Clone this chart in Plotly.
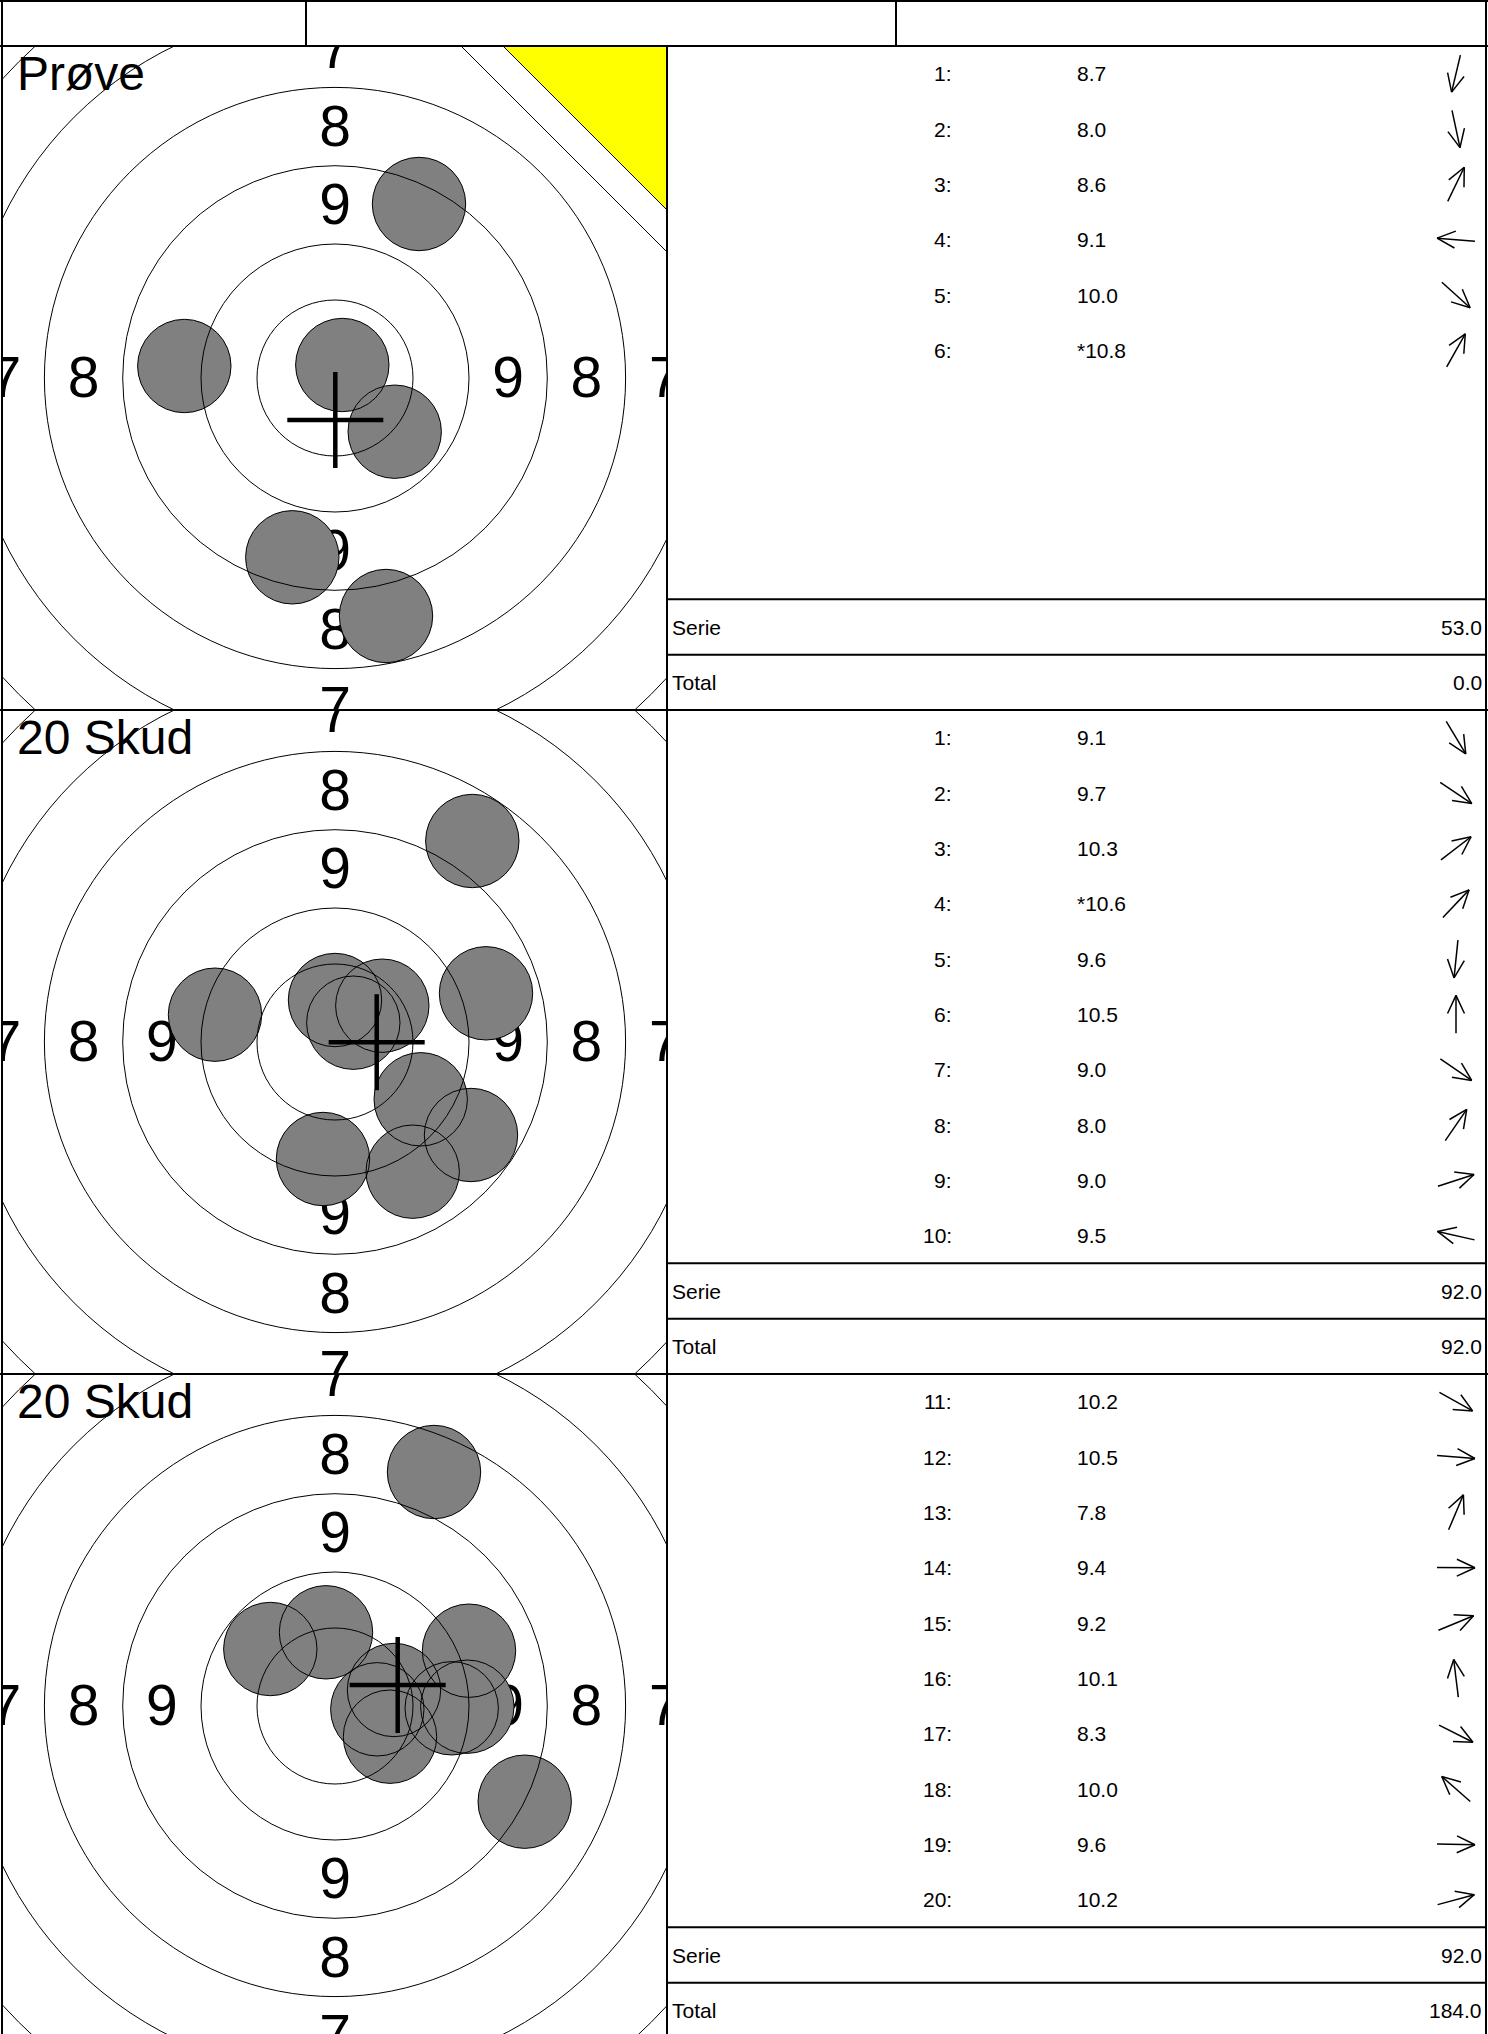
import math
import plotly.graph_objects as go

W, H = 1488, 2034
HEADER_H = 46
PANEL_H = 664
N_ROWS = 12
ROW_H = PANEL_H / N_ROWS
TARGET_LEFT, TARGET_RIGHT = 3, 667
TABLE_RIGHT = 1486
HEADER_DIVIDERS = [306, 896]
FONT = "Liberation Sans, Arial, sans-serif"
LABEL_SHIFT = -5  # plotly puts mid-centred text a little high

# target geometry (units = pixels of the sheet, origin at target centre, y up)
ring_radii = [78.0, 134.0, 212.3, 290.6, 368.9, 447.2]
ring_numbers = ["9", "8", "7"]
hole_radius = 46.7

titles = ["Prøve", "20 Skud", "20 Skud"]

# Prøve
shots_1 = [1, 2, 3, 4, 5, 6]
scores_1 = [8.7, 8.0, 8.6, 9.1, 10.0, 10.8]
inner_1 = [False, False, False, False, False, True]
hole_x_1 = [-42.7, 51.0, 84.0, -150.7, 59.7, 7.3]
hole_y_1 = [-179.3, -238.0, 174.0, 12.0, -53.7, 13.0]
mpi_1 = [0.3, -42.0]

# 20 skud, serie 1
shots_2 = [1, 2, 3, 4, 5, 6, 7, 8, 9, 10]
scores_2 = [9.1, 9.7, 10.3, 10.6, 9.6, 10.5, 9.0, 8.0, 9.0, 9.5]
inner_2 = [False, False, False, True, False, False, False, False, False, False]
hole_x_2 = [77.7, 85.7, 47.3, 18.3, -12.0, 0.0, 136.0, 137.3, 151.0, -120.0]
hole_y_2 = [-129.7, -57.3, 36.3, 19.3, -117.0, 42.0, -93.0, 201.0, 48.7, 27.3]
mpi_2 = [41.7, -0.2]

# 20 skud, serie 2
shots_3 = [11, 12, 13, 14, 15, 16, 17, 18, 19, 20]
scores_3 = [10.2, 10.5, 7.8, 9.4, 9.2, 10.1, 8.3, 10.0, 9.6, 10.2]
inner_3 = [False] * 10
hole_x_3 = [55.0, 42.3, 99.0, 132.3, 134.0, -9.0, 189.7, -64.7, 116.7, 59.0]
hole_y_3 = [-30.7, -3.3, 234.0, -0.7, 55.3, 73.7, -95.7, 57.0, -2.3, 16.0]
mpi_3 = [62.7, 21.0]

serie_values = [53.0, 92.0, 92.0]
total_values = [0.0, 92.0, 184.0]

panels = [
    (shots_1, scores_1, inner_1, hole_x_1, hole_y_1, mpi_1),
    (shots_2, scores_2, inner_2, hole_x_2, hole_y_2, mpi_2),
    (shots_3, scores_3, inner_3, hole_x_3, hole_y_3, mpi_3),
]

fig = go.Figure()
shapes = []
annotations = []
layout_axes = {}

label_radii = [(ring_radii[k + 1] + ring_radii[k + 2]) / 2 for k in range(3)]
half_w = (TARGET_RIGHT - TARGET_LEFT) / 2

for p, (shots, scores, inner, hx, hy, mpi) in enumerate(panels):
    suffix = "" if p == 0 else str(p + 1)
    xa, ya = "x" + suffix, "y" + suffix
    top = HEADER_H + p * PANEL_H
    bottom = top + PANEL_H
    cy = top + PANEL_H / 2
    vis_bottom = min(bottom, H)
    layout_axes["xaxis" + suffix] = dict(
        domain=[TARGET_LEFT / W, TARGET_RIGHT / W], range=[-half_w, half_w],
        visible=False, anchor=ya, fixedrange=True)
    layout_axes["yaxis" + suffix] = dict(
        domain=[max(0, 1 - bottom / H), 1 - top / H],
        range=[-(vis_bottom - cy), cy - top],
        visible=False, anchor=xa, fixedrange=True)

    # ring numbers (under the holes)
    lx, lyy, lt = [], [], []
    for r, t in zip(label_radii, ring_numbers):
        for dx, dy in [(0, 1), (0, -1), (1, 0), (-1, 0)]:
            lx.append(dx * r)
            lyy.append(dy * r + LABEL_SHIFT)
            lt.append(t)
    fig.add_trace(go.Scatter(
        x=lx, y=lyy, text=lt, mode="text", xaxis=xa, yaxis=ya,
        textposition="middle center", cliponaxis=True, hoverinfo="skip",
        textfont=dict(family=FONT, size=57, color="black"), showlegend=False))

    # hole fills
    for x, y in zip(hx, hy):
        shapes.append(dict(type="circle", xref=xa, yref=ya, layer="above",
                           x0=x - hole_radius, x1=x + hole_radius,
                           y0=y - hole_radius, y1=y + hole_radius,
                           fillcolor="#808080", line=dict(width=0)))
    # rings
    for r in ring_radii:
        shapes.append(dict(type="circle", xref=xa, yref=ya, layer="above",
                           x0=-r, x1=r, y0=-r, y1=r,
                           line=dict(color="black", width=1)))
    # hole outlines
    for x, y in zip(hx, hy):
        shapes.append(dict(type="circle", xref=xa, yref=ya, layer="above",
                           x0=x - hole_radius, x1=x + hole_radius,
                           y0=y - hole_radius, y1=y + hole_radius,
                           line=dict(color="black", width=1)))
    # sighter corner on the Prøve target
    if p == 0:
        c = half_w
        shapes.append(dict(type="path", xref=xa, yref=ya, layer="above",
                           path=f"M {c - 206},{c} L {c + 10},{c} L {c + 10},{c - 216} Z",
                           fillcolor="white", line=dict(color="black", width=1)))
        shapes.append(dict(type="path", xref=xa, yref=ya, layer="above",
                           path=f"M {c - 164},{c} L {c + 10},{c} L {c + 10},{c - 174} Z",
                           fillcolor="#ffff00", line=dict(color="black", width=1)))
    # mean point of impact
    mx, my = mpi
    shapes.append(dict(type="line", xref=xa, yref=ya, layer="above",
                       x0=mx - 48, x1=mx + 48, y0=my, y1=my,
                       line=dict(color="black", width=4.5)))
    shapes.append(dict(type="line", xref=xa, yref=ya, layer="above",
                       x0=mx, x1=mx, y0=my - 48, y1=my + 48,
                       line=dict(color="black", width=4.5)))

    annotations.append(dict(xref=xa, yref=ya, x=-half_w + 12, y=cy - top - 27.5,
                            text=titles[p], showarrow=False, xanchor="left",
                            yanchor="middle",
                            font=dict(family=FONT, size=48, color="black")))

    # table
    ax_x, ax_y = [], []
    for i, (n, s, inn, x, y) in enumerate(zip(shots, scores, inner, hx, hy)):
        ry = top + (i + 0.5) * ROW_H
        annotations.append(dict(xref="x4", yref="y4", x=954, y=ry, text=f"{n}:",
                                showarrow=False, xanchor="right", yanchor="middle",
                                font=dict(family=FONT, size=21, color="black")))
        annotations.append(dict(xref="x4", yref="y4", x=1075, y=ry,
                                text=("*" if inn else "") + f"{s:.1f}",
                                showarrow=False, xanchor="left", yanchor="middle",
                                font=dict(family=FONT, size=21, color="black")))
        ang = math.atan2(y, x)
        ux, uy = math.cos(ang), -math.sin(ang)
        cx0 = 1456
        tx, ty = cx0 - 19 * ux, ry - 19 * uy
        hx0, hy0 = cx0 + 19 * ux, ry + 19 * uy
        ax_x += [tx, hx0, None]
        ax_y += [ty, hy0, None]
        for sgn in (1, -1):
            a = math.radians(25) * sgn
            bx = ux * math.cos(a) - uy * math.sin(a)
            by = ux * math.sin(a) + uy * math.cos(a)
            ax_x += [hx0 - 20 * bx, hx0, None]
            ax_y += [hy0 - 20 * by, hy0, None]
    fig.add_trace(go.Scatter(x=ax_x, y=ax_y, mode="lines", xaxis="x4", yaxis="y4",
                             line=dict(color="black", width=1.5), hoverinfo="skip",
                             showlegend=False))

    serie_y = top + 10 * ROW_H
    total_y = top + 11 * ROW_H
    for label, val, yy in [("Serie", serie_values[p], serie_y), ("Total", total_values[p], total_y)]:
        annotations.append(dict(xref="x4", yref="y4", x=670, y=yy + ROW_H / 2, text=label,
                                showarrow=False, xanchor="left", yanchor="middle",
                                font=dict(family=FONT, size=21, color="black")))
        annotations.append(dict(xref="x4", yref="y4", x=1484, y=yy + ROW_H / 2,
                                text=f"{val:.1f}", showarrow=False, xanchor="right",
                                yanchor="middle",
                                font=dict(family=FONT, size=21, color="black")))
    for yy in (serie_y, total_y):
        shapes.append(dict(type="line", xref="x4", yref="y4", layer="above",
                           x0=TARGET_RIGHT, x1=TABLE_RIGHT, y0=yy, y1=yy,
                           line=dict(color="black", width=2)))
    shapes.append(dict(type="line", xref="x4", yref="y4", layer="above",
                       x0=0, x1=W, y0=top, y1=top, line=dict(color="black", width=2)))

# sheet frame
frame = [
    (0, 1, W, 1), (2, 0, 2, H), (TABLE_RIGHT, 0, TABLE_RIGHT, H),
    (TARGET_RIGHT, HEADER_H, TARGET_RIGHT, H),
]
for xd in HEADER_DIVIDERS:
    frame.append((xd, 0, xd, HEADER_H))
for x0, y0, x1, y1 in frame:
    shapes.append(dict(type="line", xref="x4", yref="y4", layer="above",
                       x0=x0, x1=x1, y0=y0, y1=y1, line=dict(color="black", width=2)))

layout_axes["xaxis4"] = dict(domain=[0, 1], range=[0, W], visible=False,
                             anchor="y4", fixedrange=True)
layout_axes["yaxis4"] = dict(domain=[0, 1], range=[H, 0], visible=False,
                             anchor="x4", fixedrange=True)

fig.update_layout(
    width=W, height=H, margin=dict(l=0, r=0, t=0, b=0),
    paper_bgcolor="white", plot_bgcolor="rgba(0,0,0,0)",
    showlegend=False, shapes=shapes, annotations=annotations,
    **layout_axes,
)
# the page's default body margin would push the sheet 8 px right and down
fig.write_html("out.html", config={"displayModeBar": False},
               post_script="document.body.style.margin = '0';")
